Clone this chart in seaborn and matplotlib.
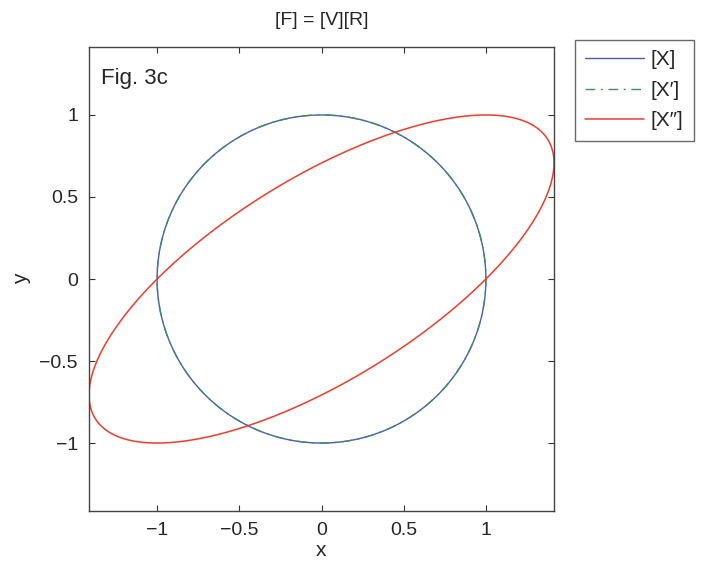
import numpy as np
import pandas as pd
import matplotlib
matplotlib.use("Agg")
import matplotlib.pyplot as plt
import seaborn as sns

# ─────────────────────────────────────────
# DATA: deformation gradient [F] and its polar split [F] = [V][R]
# ─────────────────────────────────────────
F_row1 = [1.0, 1.0]
F_row2 = [0.0, 1.0]
n_points = 721
series_labels = ["[X]", "[X\u2032]", "[X\u2033]"]
x_ticks = [-1, -0.5, 0, 0.5, 1]
y_ticks = [-1, -0.5, 0, 0.5, 1]
x_tick_labels = ["\u22121", "\u22120.5", "0", "0.5", "1"]
y_tick_labels = ["\u22121", "\u22120.5", "0", "0.5", "1"]

F = np.array([F_row1, F_row2])
# polar decomposition via SVD: F = U S Wt -> R = U Wt, V = U S Ut
U, S, Wt = np.linalg.svd(F)
R = U @ Wt
V = U @ np.diag(S) @ U.T

theta = np.linspace(0, 2 * np.pi, n_points)
X = np.vstack([np.cos(theta), np.sin(theta)])   # unit circle
X1 = R @ X                                       # rotated
X2 = V @ X1                                      # stretched

curves = pd.DataFrame({
    "x0": X[0], "y0": X[1],
    "x1": X1[0], "y1": X1[1],
    "x2": X2[0], "y2": X2[1],
})

# ─────────────────────────────────────────
# PLOT
# ─────────────────────────────────────────
sns.set_style("ticks")
plt.rcParams["font.family"] = ["Liberation Sans", "DejaVu Sans"]

fig = plt.figure(figsize=(7.07, 5.65), dpi=100)
ax = fig.add_axes([89 / 707, 1 - 511 / 565, 465 / 707, 464 / 565])

common = dict(sort=False, estimator=None, errorbar=None, ax=ax)
sns.lineplot(data=curves, x="x0", y="y0", color="#4a5bbf", lw=1.0,
             label=series_labels[0], **common)
sns.lineplot(data=curves, x="x1", y="y1", color="#3d8f5c", lw=1.0,
             linestyle=(0, (7, 4, 1.5, 4)), label=series_labels[1], **common)
sns.lineplot(data=curves, x="x2", y="y2", color="#f23b2a", lw=1.1,
             label=series_labels[2], **common)

lim = np.sqrt(2)
ax.set_xlim(-lim, lim)
ax.set_ylim(-lim, lim)
ax.set_xticks(x_ticks)
ax.set_xticklabels(x_tick_labels)
ax.set_yticks(y_ticks)
ax.set_yticklabels(y_tick_labels)
ax.tick_params(direction="in", top=True, right=True, length=4,
               labelsize=14, color="#333333", pad=8)
for sp in ax.spines.values():
    sp.set_color("#444444")
    sp.set_linewidth(1.0)

ax.set_xlabel("x", fontsize=15, labelpad=1)
ax.set_ylabel("y", fontsize=15, labelpad=6)
ax.set_title("[F] = [V][R]", fontsize=14, pad=16)
ax.text(0.025, 0.955, "Fig. 3c", transform=ax.transAxes,
        fontsize=16, ha="left", va="top")

leg = ax.legend(loc="upper left", bbox_to_anchor=(1.045, 1.015),
                frameon=True, fancybox=False, fontsize=15,
                handlelength=2.8, borderpad=0.5, labelspacing=0.55,
                handletextpad=0.35, borderaxespad=0)
leg.get_frame().set_edgecolor("#444444")
leg.get_frame().set_linewidth(1.0)

plt.savefig("out.png", dpi=100)
